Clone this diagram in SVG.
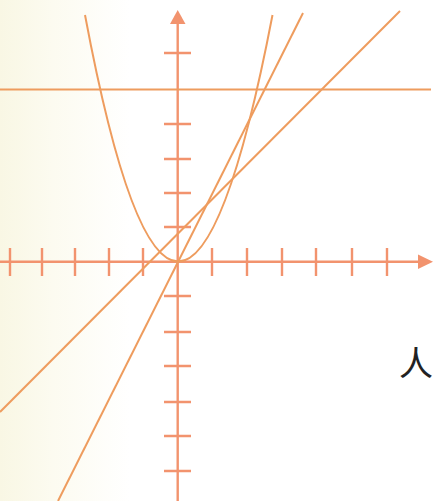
<svg xmlns="http://www.w3.org/2000/svg" width="434" height="501" viewBox="0 0 434 501">
<defs>
<linearGradient id="bg" x1="0" y1="0" x2="1" y2="0">
<stop offset="0" stop-color="#f9f7e4"/>
<stop offset="0.12" stop-color="#fcfbf0"/>
<stop offset="0.3" stop-color="#ffffff"/>
<stop offset="1" stop-color="#ffffff"/>
</linearGradient>
<style>
.axis{stroke:#f2936e;stroke-width:2.4;fill:none}
.tick{stroke:#f2936e;stroke-width:2.4;fill:none}
.curve{stroke:#ee9c5e;stroke-width:2;fill:none}
.head{fill:#f2936e}
.lbl{font-family:"Noto Sans CJK SC","Noto Sans CJK JP",sans-serif;font-size:34px;fill:#222}
</style>
</defs>
<rect x="0" y="0" width="434" height="501" fill="url(#bg)"/>
<g id="axes">
<g id="x-axis">
<line class="axis" x1="0" y1="261.7" x2="422" y2="261.7"/>
<polygon class="head" points="433,261.7 418,254.5 418,269"/>
<path class="tick" d="M10,248V276M42,248V276M75,248V276M109,248V276M143,248V276M212,248V276M247,248V276M282,248V276M316,248V276M352,248V276M387,248V276"/>
</g>
<g id="y-axis">
<line class="axis" x1="177.7" y1="20" x2="177.7" y2="501"/>
<polygon class="head" points="177.7,10 170,24 185.5,24"/>
<path class="tick" d="M164,53H191M164,124H191M164,159H191M164,193H191M164,227H191M164,296H191M164,332H191M164,366H191M164,402H191M164,436H191M164,471H191"/>
</g>
</g>
<g id="connectors">
<line id="y5" class="curve" x1="0" y1="89.5" x2="431" y2="89.5"/>
<path id="parabola" class="curve" d="M85,15 Q177.7,508 272.5,15"/>
<line id="line-steep" class="curve" x1="58" y1="501" x2="303" y2="13"/>
<line id="line-shallow" class="curve" x1="0" y1="412" x2="400" y2="11"/>
</g>
<g id="label">
<text class="lbl" x="399" y="376">人</text>
</g>
</svg>
